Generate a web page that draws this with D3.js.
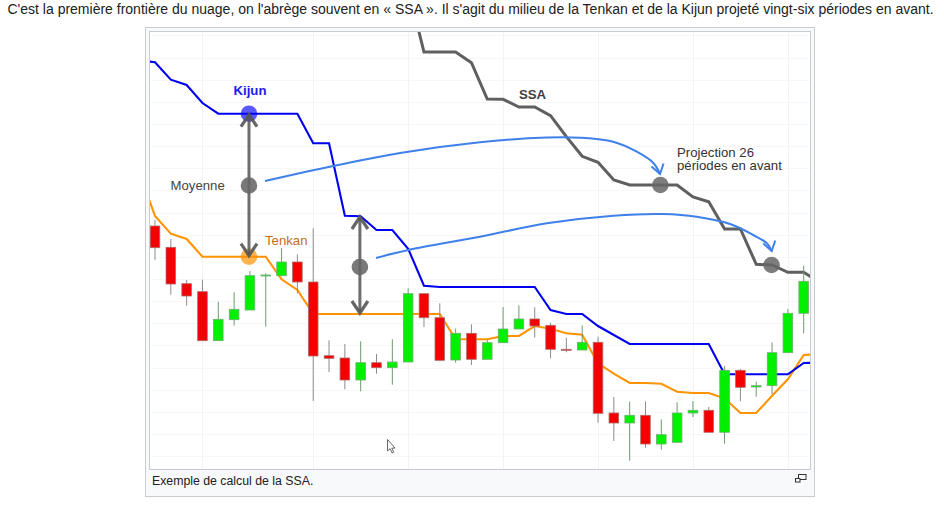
<!DOCTYPE html>
<html lang="fr"><head><meta charset="utf-8">
<script src="https://cdnjs.cloudflare.com/ajax/libs/d3/7.8.5/d3.min.js"></script>
<style>html,body{margin:0;padding:0;background:#fff;overflow:hidden}svg{display:block}text{font-family:"Liberation Sans",Arial,sans-serif}</style>
</head><body><svg id="c" width="944" height="506"></svg>
<script>
const introText = "C'est la première frontière du nuage, on l'abrège souvent en « SSA ». Il s'agit du milieu de la Tenkan et de la Kijun projeté vingt-six périodes en avant.";
const captionText = "Exemple de calcul de la SSA.";
const opens  = [244,222.7,186.3,178.3,129.3,150.3,160,194.3,194.3,208,188,114.3,112,90,107.3,102.3,108,176.3,152.3,110,136.7,110.7,127.3,141,151,144.7,120.7,120,127.7,57,47,54.7,26,27.7,57,59.7,37.7,99.7,83,84.3,117.3,156.7];
const closes = [222.3,186,174,129.3,150.7,160.7,194.3,195,208,188,114,111.7,90,107.3,102.3,108,176.3,152.3,109.7,136.7,110.7,127.3,141,151,144,120.7,119.7,127.7,56.7,47,54.7,26,35.3,57,59.7,37.7,99.7,82.7,84.3,117.3,156.7,188.7];
const highs  = [250,231,190,190.3,168.3,177.7,199,196.7,222,215.7,241.7,129.7,126,128.7,116,130.7,181.7,176.3,166.7,141.3,145.7,130,163,164.7,162.7,147.3,132.3,144.7,133.3,73,68.3,68.7,50.7,67.7,69,63,104,101,88.3,127.7,161,204.3];
const lows   = [210,175.3,164.3,129.3,129.3,144.3,160,143.3,194.3,176.7,69,98,80.7,78.7,96.3,85.3,108,143,109.7,107.3,105,110.7,127.3,141,132.3,111.7,117.7,120,47.3,29,9.3,22.3,20.3,27.7,53,37.7,26.3,68.7,73.3,76,117.3,136.7];
// Lines run from period -1 to period 42
const kijun  = [410,407.7,390.3,385,367,356.3,356.3,356.3,356.3,356.3,356.3,326.7,326.7,254.3,253.7,240,240,221.3,184.3,183,183,183,183,183,183,183,160,156,156,144,135,126,126,126,126,126,126,95.7,95.7,95.7,95.7,95.7,107,107.3];
const tenkan = [298,254,236.3,231,213.3,213.3,213.3,213.3,213.3,190.7,180,156,156,156,156,156,156,156,156,156,130.7,130.7,130.7,134,134,144,141.3,136.7,135.3,106.7,96.3,87,87,86.3,78.3,77,77,71.7,57,57,74.3,90.7,115,116];
// SSA runs from period 16 to period 42
const ssa    = [482,418,418,418,407.3,371,370.7,363,363,354.3,333.3,313.7,307.7,290,285,285,285,285,273,268.3,241,241,205.7,205,197.7,197.7,188];
const ssaStart = 16;
const gridPeriods = [3,10,16,22,28,34,40];
const gridPrices = [14,36.1,58.3,80.4,102.5,124.7,146.8,168.9,191,213.2,235.3,257.4,279.6,301.7,323.8,346,368.1,390.2,412.4,434.5];
// Hand-drawn annotations in the source sit slightly off the candles
const annotPeriods = [5.94,12.95];
const annotKijun   = [356.3,254];
const annotTenkan  = [213.3,156];
const annotMean    = [284.5,203];
const projPeriods  = [31.94,38.97];
const projPrices   = [285,205];
const curveAPeriods = [6.95,11.27,15.49,20.54,24.76,26.88,28.96,30.45,31.5,31.92];
const curveAPrices  = [289,304,317,327.7,332.5,332.3,328.3,318.3,307,296];
const curveBPeriods = [13.97,16.01,20.54,24.76,28.97,32.11,34.24,36.35,37.82,38.67,38.98];
const curveBPrices  = [212,220,233.3,246.7,254.3,256,253.3,246,235,226.7,219];

const svg = d3.select("#c");
const x = d3.scaleLinear().domain([0,41]).range([155,803.7]);
const y = d3.scaleLinear().domain([0,440]).range([470,30]);
const F = {l:149.5,t:31.5,r:810.5,b:469.5};

svg.append("text").attr("x",7.5).attr("y",14).attr("font-size",14).attr("fill","#202122").text(introText);
svg.append("rect").attr("x",145.5).attr("y",27.5).attr("width",669).attr("height",469).attr("fill","#f8f9fa").attr("stroke","#c8ccd1");
svg.append("rect").attr("x",F.l).attr("y",F.t).attr("width",F.r-F.l).attr("height",F.b-F.t).attr("fill","#fff").attr("stroke","#c8ccd1");
svg.append("defs").append("clipPath").attr("id","fr").append("rect").attr("x",F.l+.5).attr("y",F.t+.5).attr("width",F.r-F.l-1).attr("height",F.b-F.t-1);
const g = svg.append("g").attr("clip-path","url(#fr)");

g.selectAll("line.gy").data(gridPrices).join("line").attr("class","gy").attr("x1",F.l).attr("x2",F.r)
  .attr("y1",d=>Math.round(y(d))+.5).attr("y2",d=>Math.round(y(d))+.5).attr("stroke","#f7f7f7").attr("stroke-width",1);
g.selectAll("line.gx").data(gridPeriods).join("line").attr("class","gx").attr("y1",F.t).attr("y2",F.b)
  .attr("x1",d=>Math.round(x(d))+.5).attr("x2",d=>Math.round(x(d))+.5).attr("stroke","#f3f3f3").attr("stroke-width",1);

const line = d3.line().x(d=>x(d[0])).y(d=>y(d[1]));
const pts = (arr,start)=>arr.map((v,i)=>[start+i,v]);
g.append("path").attr("d",line(pts(tenkan,-1))).attr("fill","none").attr("stroke","#ff9300").attr("stroke-width",2.1);
g.append("path").attr("d",line(pts(kijun,-1))).attr("fill","none").attr("stroke","#0000f0").attr("stroke-width",2.1);
g.append("path").attr("d",line(pts(ssa,ssaStart))).attr("fill","none").attr("stroke","#5f5f5f").attr("stroke-width",3);

const idx = d3.range(opens.length);
g.selectAll("line.w").data(idx).join("line").attr("class","w")
  .attr("x1",i=>x(i)).attr("x2",i=>x(i)).attr("y1",i=>y(highs[i])).attr("y2",i=>y(lows[i]))
  .attr("stroke",i=>closes[i]>=opens[i]?"#6f9a6f":"#8c8c8c").attr("stroke-width",1);
g.selectAll("rect.b").data(idx).join("rect").attr("class","b")
  .attr("x",i=>x(i)-4.8).attr("width",9.6)
  .attr("y",i=>y(Math.max(opens[i],closes[i])))
  .attr("height",i=>Math.max(1,Math.abs(y(opens[i])-y(closes[i]))))
  .attr("fill",i=>closes[i]>=opens[i]?"#00f000":"#f50000")
  .attr("stroke",i=>closes[i]>=opens[i]?"#6fae6f":"#b06a6a").attr("stroke-width",.8);

function vee(px,py,dir,s){
  return `M${px-s},${py+dir*1.5*s}L${px},${py}L${px+s},${py+dir*1.5*s}`;
}
const dot=(p,v,c,o,r)=>g.append("circle").attr("cx",x(p)).attr("cy",y(v)).attr("r",r||8.3).attr("fill",c).attr("fill-opacity",o);

dot(annotPeriods[0],annotKijun[0],"#0000ff",.65);
dot(annotPeriods[0],annotTenkan[0],"#ff9300",.7);
annotPeriods.forEach((p,i)=>{
  const X=x(p),a=y(annotKijun[i]),b=y(annotTenkan[i]);
  g.append("line").attr("x1",X).attr("x2",X).attr("y1",a+2).attr("y2",b-2).attr("stroke","#555").attr("stroke-opacity",.85).attr("stroke-width",3);
  g.append("path").attr("d",vee(X,a+1,1,8)+vee(X,b-1,-1,8)).attr("fill","none").attr("stroke","#555").attr("stroke-opacity",.9).attr("stroke-width",3.2);
  dot(p,annotMean[i],"#666",.88);
  dot(projPeriods[i],projPrices[i],"#666",.85);
});

const curve=d3.line().x(d=>x(d[0])).y(d=>y(d[1])).curve(d3.curveCatmullRom.alpha(.5));
[[curveAPeriods,curveAPrices],[curveBPeriods,curveBPrices]].forEach(([ps,vs])=>{
  const P=ps.map((p,i)=>[p,vs[i]]);
  g.append("path").attr("d",curve(P)).attr("fill","none").attr("stroke","#3f80ea").attr("stroke-width",2);
  const tx=x(ps[ps.length-1]),ty=y(vs[vs.length-1]);
  g.append("path").attr("d",`M${tx-8.5},${ty-7.5}L${tx},${ty}L${tx+3.5},${ty-10.5}`).attr("fill","none").attr("stroke","#3f80ea").attr("stroke-width",2);
});

const label=(t,xp,yp,c,w,anchor)=>svg.append("text").attr("x",xp).attr("y",yp).attr("font-size",13.2)
  .attr("fill",c).attr("font-weight",w||400).attr("text-anchor",anchor||"start").text(t);
label("Kijun",250,95,"#1c1cf0",700,"middle");
label("SSA",519,99,"#3f3f3f",700);
label("Moyenne",170.5,189.5,"#444");
label("Tenkan",265,245,"#c0701c");
label("Projection 26",677,156.5,"#333");
label("périodes en avant",677,170,"#333");

svg.append("path").attr("d","M387.5,439.5V451l2.6,-2.3l1.9,4.2l1.7,-.8l-1.9,-4h3.3z").attr("fill","#fff").attr("stroke","#555").attr("stroke-width",.9);
svg.append("rect").attr("x",798.5).attr("y",474.5).attr("width",7.5).attr("height",5).attr("fill","none").attr("stroke","#333");
svg.append("rect").attr("x",795.5).attr("y",478.5).attr("width",4.5).attr("height",3.5).attr("fill","#f8f9fa").attr("stroke","#333");
svg.append("text").attr("x",152).attr("y",485).attr("font-size",12.3).attr("fill","#202122").text(captionText);
</script></body></html>
